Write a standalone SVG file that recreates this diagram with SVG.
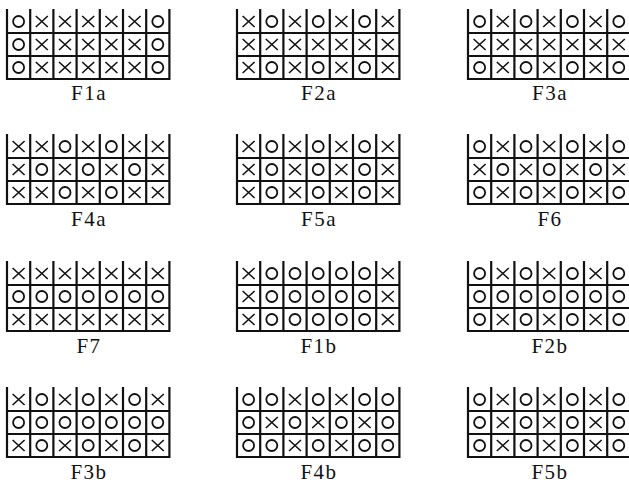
<svg xmlns="http://www.w3.org/2000/svg" xmlns:xlink="http://www.w3.org/1999/xlink" width="629" height="483" viewBox="0 0 629 483">
<style>
.grid{fill:none;stroke:#111;stroke-width:2.2;stroke-linecap:square}
.sx{fill:none;stroke:#111;stroke-width:1.6}
.so{fill:none;stroke:#111;stroke-width:1.8}
.lbl{font-family:"Liberation Serif","Times New Roman",serif;font-size:21px;letter-spacing:1.5px;fill:#111;text-anchor:middle}
</style>
<defs>
<path id="grid" class="grid" d="M0,0V69M23.2,0V69M46.4,0V69M69.6,0V69M92.8,0V69M116,0V69M139.2,0V69M162.4,0V69M0,23H162.4M0,46H162.4M0,69H162.4"/>
<path id="x" class="sx" d="M-6,-5.5L6,5.5M-6,5.5L6,-5.5"/>
<circle id="o" class="so" r="5.5"/>
</defs>
<rect width="629" height="483" fill="#fff"/>

<g id="F1a" transform="translate(7,10)">
<use href="#grid"/>
<use href="#o" x="11.6" y="11.5"/><use href="#x" x="34.8" y="11.5"/><use href="#x" x="58" y="11.5"/><use href="#x" x="81.2" y="11.5"/><use href="#x" x="104.4" y="11.5"/><use href="#x" x="127.6" y="11.5"/><use href="#o" x="150.8" y="11.5"/>
<use href="#o" x="11.6" y="34.5"/><use href="#x" x="34.8" y="34.5"/><use href="#x" x="58" y="34.5"/><use href="#x" x="81.2" y="34.5"/><use href="#x" x="104.4" y="34.5"/><use href="#x" x="127.6" y="34.5"/><use href="#o" x="150.8" y="34.5"/>
<use href="#o" x="11.6" y="57.5"/><use href="#x" x="34.8" y="57.5"/><use href="#x" x="58" y="57.5"/><use href="#x" x="81.2" y="57.5"/><use href="#x" x="104.4" y="57.5"/><use href="#x" x="127.6" y="57.5"/><use href="#o" x="150.8" y="57.5"/>
<text class="lbl" x="82" y="90">F1a</text>
</g>

<g id="F2a" transform="translate(237,10)">
<use href="#grid"/>
<use href="#x" x="11.6" y="11.5"/><use href="#o" x="34.8" y="11.5"/><use href="#x" x="58" y="11.5"/><use href="#o" x="81.2" y="11.5"/><use href="#x" x="104.4" y="11.5"/><use href="#o" x="127.6" y="11.5"/><use href="#x" x="150.8" y="11.5"/>
<use href="#x" x="11.6" y="34.5"/><use href="#x" x="34.8" y="34.5"/><use href="#x" x="58" y="34.5"/><use href="#x" x="81.2" y="34.5"/><use href="#x" x="104.4" y="34.5"/><use href="#x" x="127.6" y="34.5"/><use href="#x" x="150.8" y="34.5"/>
<use href="#x" x="11.6" y="57.5"/><use href="#o" x="34.8" y="57.5"/><use href="#x" x="58" y="57.5"/><use href="#o" x="81.2" y="57.5"/><use href="#x" x="104.4" y="57.5"/><use href="#o" x="127.6" y="57.5"/><use href="#x" x="150.8" y="57.5"/>
<text class="lbl" x="82" y="90">F2a</text>
</g>

<g id="F3a" transform="translate(468,10)">
<use href="#grid"/>
<use href="#o" x="11.6" y="11.5"/><use href="#x" x="34.8" y="11.5"/><use href="#o" x="58" y="11.5"/><use href="#x" x="81.2" y="11.5"/><use href="#o" x="104.4" y="11.5"/><use href="#x" x="127.6" y="11.5"/><use href="#o" x="150.8" y="11.5"/>
<use href="#x" x="11.6" y="34.5"/><use href="#x" x="34.8" y="34.5"/><use href="#x" x="58" y="34.5"/><use href="#x" x="81.2" y="34.5"/><use href="#x" x="104.4" y="34.5"/><use href="#x" x="127.6" y="34.5"/><use href="#x" x="150.8" y="34.5"/>
<use href="#o" x="11.6" y="57.5"/><use href="#x" x="34.8" y="57.5"/><use href="#o" x="58" y="57.5"/><use href="#x" x="81.2" y="57.5"/><use href="#o" x="104.4" y="57.5"/><use href="#x" x="127.6" y="57.5"/><use href="#o" x="150.8" y="57.5"/>
<text class="lbl" x="82" y="90">F3a</text>
</g>

<g id="F4a" transform="translate(7,135)">
<use href="#grid"/>
<use href="#x" x="11.6" y="11.5"/><use href="#x" x="34.8" y="11.5"/><use href="#o" x="58" y="11.5"/><use href="#x" x="81.2" y="11.5"/><use href="#o" x="104.4" y="11.5"/><use href="#x" x="127.6" y="11.5"/><use href="#x" x="150.8" y="11.5"/>
<use href="#x" x="11.6" y="34.5"/><use href="#o" x="34.8" y="34.5"/><use href="#x" x="58" y="34.5"/><use href="#o" x="81.2" y="34.5"/><use href="#x" x="104.4" y="34.5"/><use href="#o" x="127.6" y="34.5"/><use href="#x" x="150.8" y="34.5"/>
<use href="#x" x="11.6" y="57.5"/><use href="#x" x="34.8" y="57.5"/><use href="#o" x="58" y="57.5"/><use href="#x" x="81.2" y="57.5"/><use href="#o" x="104.4" y="57.5"/><use href="#x" x="127.6" y="57.5"/><use href="#x" x="150.8" y="57.5"/>
<text class="lbl" x="82" y="91">F4a</text>
</g>

<g id="F5a" transform="translate(237,135)">
<use href="#grid"/>
<use href="#x" x="11.6" y="11.5"/><use href="#o" x="34.8" y="11.5"/><use href="#x" x="58" y="11.5"/><use href="#o" x="81.2" y="11.5"/><use href="#x" x="104.4" y="11.5"/><use href="#o" x="127.6" y="11.5"/><use href="#x" x="150.8" y="11.5"/>
<use href="#x" x="11.6" y="34.5"/><use href="#o" x="34.8" y="34.5"/><use href="#x" x="58" y="34.5"/><use href="#o" x="81.2" y="34.5"/><use href="#x" x="104.4" y="34.5"/><use href="#o" x="127.6" y="34.5"/><use href="#x" x="150.8" y="34.5"/>
<use href="#x" x="11.6" y="57.5"/><use href="#o" x="34.8" y="57.5"/><use href="#x" x="58" y="57.5"/><use href="#o" x="81.2" y="57.5"/><use href="#x" x="104.4" y="57.5"/><use href="#o" x="127.6" y="57.5"/><use href="#x" x="150.8" y="57.5"/>
<text class="lbl" x="82" y="91">F5a</text>
</g>

<g id="F6" transform="translate(468,135)">
<use href="#grid"/>
<use href="#o" x="11.6" y="11.5"/><use href="#x" x="34.8" y="11.5"/><use href="#o" x="58" y="11.5"/><use href="#x" x="81.2" y="11.5"/><use href="#o" x="104.4" y="11.5"/><use href="#x" x="127.6" y="11.5"/><use href="#o" x="150.8" y="11.5"/>
<use href="#x" x="11.6" y="34.5"/><use href="#o" x="34.8" y="34.5"/><use href="#x" x="58" y="34.5"/><use href="#o" x="81.2" y="34.5"/><use href="#x" x="104.4" y="34.5"/><use href="#o" x="127.6" y="34.5"/><use href="#x" x="150.8" y="34.5"/>
<use href="#o" x="11.6" y="57.5"/><use href="#x" x="34.8" y="57.5"/><use href="#o" x="58" y="57.5"/><use href="#x" x="81.2" y="57.5"/><use href="#o" x="104.4" y="57.5"/><use href="#x" x="127.6" y="57.5"/><use href="#o" x="150.8" y="57.5"/>
<text class="lbl" x="82" y="91">F6</text>
</g>

<g id="F7" transform="translate(7,262)">
<use href="#grid"/>
<use href="#x" x="11.6" y="11.5"/><use href="#x" x="34.8" y="11.5"/><use href="#x" x="58" y="11.5"/><use href="#x" x="81.2" y="11.5"/><use href="#x" x="104.4" y="11.5"/><use href="#x" x="127.6" y="11.5"/><use href="#x" x="150.8" y="11.5"/>
<use href="#o" x="11.6" y="34.5"/><use href="#o" x="34.8" y="34.5"/><use href="#o" x="58" y="34.5"/><use href="#o" x="81.2" y="34.5"/><use href="#o" x="104.4" y="34.5"/><use href="#o" x="127.6" y="34.5"/><use href="#o" x="150.8" y="34.5"/>
<use href="#x" x="11.6" y="57.5"/><use href="#x" x="34.8" y="57.5"/><use href="#x" x="58" y="57.5"/><use href="#x" x="81.2" y="57.5"/><use href="#x" x="104.4" y="57.5"/><use href="#x" x="127.6" y="57.5"/><use href="#x" x="150.8" y="57.5"/>
<text class="lbl" x="82" y="91">F7</text>
</g>

<g id="F1b" transform="translate(237,262)">
<use href="#grid"/>
<use href="#x" x="11.6" y="11.5"/><use href="#o" x="34.8" y="11.5"/><use href="#o" x="58" y="11.5"/><use href="#o" x="81.2" y="11.5"/><use href="#o" x="104.4" y="11.5"/><use href="#o" x="127.6" y="11.5"/><use href="#x" x="150.8" y="11.5"/>
<use href="#x" x="11.6" y="34.5"/><use href="#o" x="34.8" y="34.5"/><use href="#o" x="58" y="34.5"/><use href="#o" x="81.2" y="34.5"/><use href="#o" x="104.4" y="34.5"/><use href="#o" x="127.6" y="34.5"/><use href="#x" x="150.8" y="34.5"/>
<use href="#x" x="11.6" y="57.5"/><use href="#o" x="34.8" y="57.5"/><use href="#o" x="58" y="57.5"/><use href="#o" x="81.2" y="57.5"/><use href="#o" x="104.4" y="57.5"/><use href="#o" x="127.6" y="57.5"/><use href="#x" x="150.8" y="57.5"/>
<text class="lbl" x="82" y="91">F1b</text>
</g>

<g id="F2b" transform="translate(468,262)">
<use href="#grid"/>
<use href="#o" x="11.6" y="11.5"/><use href="#x" x="34.8" y="11.5"/><use href="#o" x="58" y="11.5"/><use href="#x" x="81.2" y="11.5"/><use href="#o" x="104.4" y="11.5"/><use href="#x" x="127.6" y="11.5"/><use href="#o" x="150.8" y="11.5"/>
<use href="#o" x="11.6" y="34.5"/><use href="#o" x="34.8" y="34.5"/><use href="#o" x="58" y="34.5"/><use href="#o" x="81.2" y="34.5"/><use href="#o" x="104.4" y="34.5"/><use href="#o" x="127.6" y="34.5"/><use href="#o" x="150.8" y="34.5"/>
<use href="#o" x="11.6" y="57.5"/><use href="#x" x="34.8" y="57.5"/><use href="#o" x="58" y="57.5"/><use href="#x" x="81.2" y="57.5"/><use href="#o" x="104.4" y="57.5"/><use href="#x" x="127.6" y="57.5"/><use href="#o" x="150.8" y="57.5"/>
<text class="lbl" x="82" y="91">F2b</text>
</g>

<g id="F3b" transform="translate(7,388)">
<use href="#grid"/>
<use href="#x" x="11.6" y="11.5"/><use href="#o" x="34.8" y="11.5"/><use href="#x" x="58" y="11.5"/><use href="#o" x="81.2" y="11.5"/><use href="#x" x="104.4" y="11.5"/><use href="#o" x="127.6" y="11.5"/><use href="#x" x="150.8" y="11.5"/>
<use href="#o" x="11.6" y="34.5"/><use href="#o" x="34.8" y="34.5"/><use href="#o" x="58" y="34.5"/><use href="#o" x="81.2" y="34.5"/><use href="#o" x="104.4" y="34.5"/><use href="#o" x="127.6" y="34.5"/><use href="#o" x="150.8" y="34.5"/>
<use href="#x" x="11.6" y="57.5"/><use href="#o" x="34.8" y="57.5"/><use href="#x" x="58" y="57.5"/><use href="#o" x="81.2" y="57.5"/><use href="#x" x="104.4" y="57.5"/><use href="#o" x="127.6" y="57.5"/><use href="#x" x="150.8" y="57.5"/>
<text class="lbl" x="82" y="91">F3b</text>
</g>

<g id="F4b" transform="translate(237,388)">
<use href="#grid"/>
<use href="#o" x="11.6" y="11.5"/><use href="#o" x="34.8" y="11.5"/><use href="#x" x="58" y="11.5"/><use href="#o" x="81.2" y="11.5"/><use href="#x" x="104.4" y="11.5"/><use href="#o" x="127.6" y="11.5"/><use href="#o" x="150.8" y="11.5"/>
<use href="#o" x="11.6" y="34.5"/><use href="#x" x="34.8" y="34.5"/><use href="#o" x="58" y="34.5"/><use href="#x" x="81.2" y="34.5"/><use href="#o" x="104.4" y="34.5"/><use href="#x" x="127.6" y="34.5"/><use href="#o" x="150.8" y="34.5"/>
<use href="#o" x="11.6" y="57.5"/><use href="#o" x="34.8" y="57.5"/><use href="#x" x="58" y="57.5"/><use href="#o" x="81.2" y="57.5"/><use href="#x" x="104.4" y="57.5"/><use href="#o" x="127.6" y="57.5"/><use href="#o" x="150.8" y="57.5"/>
<text class="lbl" x="82" y="91">F4b</text>
</g>

<g id="F5b" transform="translate(468,388)">
<use href="#grid"/>
<use href="#o" x="11.6" y="11.5"/><use href="#x" x="34.8" y="11.5"/><use href="#o" x="58" y="11.5"/><use href="#x" x="81.2" y="11.5"/><use href="#o" x="104.4" y="11.5"/><use href="#x" x="127.6" y="11.5"/><use href="#o" x="150.8" y="11.5"/>
<use href="#o" x="11.6" y="34.5"/><use href="#x" x="34.8" y="34.5"/><use href="#o" x="58" y="34.5"/><use href="#x" x="81.2" y="34.5"/><use href="#o" x="104.4" y="34.5"/><use href="#x" x="127.6" y="34.5"/><use href="#o" x="150.8" y="34.5"/>
<use href="#o" x="11.6" y="57.5"/><use href="#x" x="34.8" y="57.5"/><use href="#o" x="58" y="57.5"/><use href="#x" x="81.2" y="57.5"/><use href="#o" x="104.4" y="57.5"/><use href="#x" x="127.6" y="57.5"/><use href="#o" x="150.8" y="57.5"/>
<text class="lbl" x="82" y="91">F5b</text>
</g>
</svg>
